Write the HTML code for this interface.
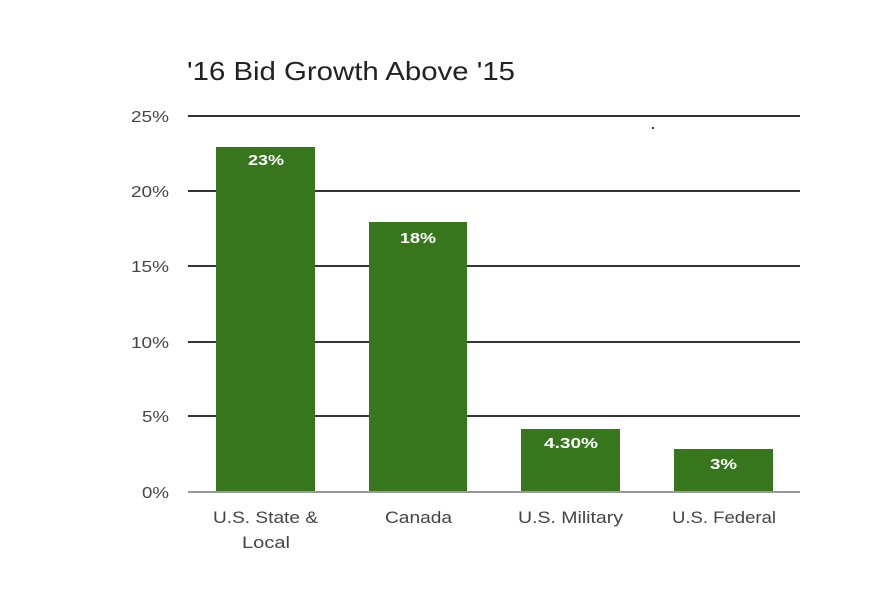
<!DOCTYPE html>
<html><head><meta charset="utf-8"><style>
html,body{margin:0;padding:0;background:#fff;}
svg{display:block;}
text{font-family:"Liberation Sans",sans-serif;}
</style></head><body>
<svg width="888" height="595" viewBox="0 0 888 595" xmlns="http://www.w3.org/2000/svg">
<rect width="888" height="595" fill="#fff"/>
<text x="187" y="80" font-size="26" fill="#222" textLength="328" lengthAdjust="spacingAndGlyphs">'16 Bid Growth Above '15</text>
<g stroke="#333" stroke-width="2">
<line x1="188" y1="116" x2="800" y2="116"/>
<line x1="188" y1="191" x2="800" y2="191"/>
<line x1="188" y1="266" x2="800" y2="266"/>
<line x1="188" y1="342" x2="800" y2="342"/>
<line x1="188" y1="416" x2="800" y2="416"/>
</g>
<line x1="188" y1="492" x2="800" y2="492" stroke="#999" stroke-width="2"/>
<g font-size="16" fill="#444">
<text x="131" y="122" textLength="38" lengthAdjust="spacingAndGlyphs">25%</text>
<text x="131" y="197" textLength="38" lengthAdjust="spacingAndGlyphs">20%</text>
<text x="131" y="272" textLength="38" lengthAdjust="spacingAndGlyphs">15%</text>
<text x="131" y="348" textLength="38" lengthAdjust="spacingAndGlyphs">10%</text>
<text x="142" y="422" textLength="27" lengthAdjust="spacingAndGlyphs">5%</text>
<text x="142" y="498" textLength="27" lengthAdjust="spacingAndGlyphs">0%</text>
</g>
<g fill="#38761d">
<rect x="216" y="147" width="99" height="344"/>
<rect x="369" y="222" width="98" height="269"/>
<rect x="521" y="429" width="99" height="62"/>
<rect x="674" y="449" width="99" height="42"/>
</g>
<g font-size="15" font-weight="bold" fill="#fff">
<text x="248" y="165" textLength="36" lengthAdjust="spacingAndGlyphs">23%</text>
<text x="400" y="243" textLength="36" lengthAdjust="spacingAndGlyphs">18%</text>
<text x="544" y="448" textLength="54" lengthAdjust="spacingAndGlyphs">4.30%</text>
<text x="710" y="469" textLength="27" lengthAdjust="spacingAndGlyphs">3%</text>
</g>
<g font-size="17" fill="#444">
<text x="213" y="523" textLength="105" lengthAdjust="spacingAndGlyphs">U.S. State &amp;</text>
<text x="242" y="548" textLength="48" lengthAdjust="spacingAndGlyphs">Local</text>
<text x="385" y="523" textLength="67" lengthAdjust="spacingAndGlyphs">Canada</text>
<text x="518" y="523" textLength="105" lengthAdjust="spacingAndGlyphs">U.S. Military</text>
<text x="672" y="523" textLength="104" lengthAdjust="spacingAndGlyphs">U.S. Federal</text>
</g>
<rect x="652" y="127" width="2" height="2" fill="#333"/>
</svg>
</body></html>
